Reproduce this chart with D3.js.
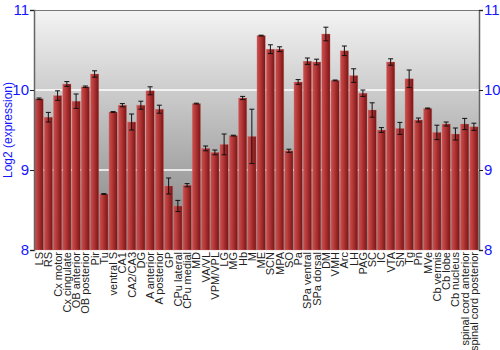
<!DOCTYPE html>
<html>
<head>
<meta charset="utf-8">
<script src="https://cdn.jsdelivr.net/npm/d3@7"></script>
<style>
  body { margin: 0; background: #fff; }
  text { font-family: "Liberation Sans", Arial, sans-serif; }
</style>
</head>
<body>
<div id="chart"></div>
<script>
var regions = ["LS", "RS", "Cx motor", "Cx cingulate", "OB anterior", "OB posterior", "Pir", "Tu",
  "ventral S", "CA1", "CA2/CA3", "DG", "A anterior", "A posterior", "GP", "CPu lateral",
  "CPu medial", "MD", "VA/VL", "VPM/VPL", "LG", "MG", "Hb", "M", "ME", "SCN", "MPA", "SO",
  "Pa", "SPa ventral", "SPa dorsal", "DM", "VMH", "Arc", "LH", "PAG", "SC", "IC", "VTA", "SN",
  "Tg", "Pn", "MVe", "Cb vermis", "Cb lobe", "Cb nucleus", "spinal cord anterior", "spinal cord posterior"];

var expression = [9.89, 9.66, 9.93, 10.075, 9.86, 10.04, 10.20, 8.70,
  9.725, 9.81, 9.60, 9.81, 9.99, 9.76, 8.80, 8.55,
  8.81, 9.83, 9.27, 9.22, 9.32, 9.43, 9.90, 9.42, 10.68, 10.51, 10.51, 9.24,
  10.10, 10.36, 10.35, 10.70, 10.12, 10.49, 10.18, 9.96, 9.75, 9.50, 10.35, 9.52,
  10.14, 9.625, 9.77, 9.47, 9.575, 9.45, 9.575, 9.54];

var stderr = [0.01, 0.06, 0.06, 0.03, 0.09, 0.01, 0.04, 0.005,
  0.005, 0.02, 0.10, 0.05, 0.05, 0.05, 0.10, 0.07,
  0.02, 0.005, 0.03, 0.03, 0.13, 0.005, 0.02, 0.34, 0.005, 0.055, 0.03, 0.02,
  0.03, 0.04, 0.035, 0.085, 0.005, 0.06, 0.085, 0.04, 0.09, 0.03, 0.04, 0.075,
  0.11, 0.025, 0.005, 0.09, 0.025, 0.075, 0.07, 0.045];

var yTicks = [8, 9, 10, 11];

var margin = {top: 10, right: 21, bottom: 100, left: 34},
    width = 500 - margin.left - margin.right,
    height = 350 - margin.top - margin.bottom;

var svg = d3.select("#chart").append("svg")
    .attr("width", 500)
    .attr("height", 350);

var defs = svg.append("defs");
var bg = defs.append("linearGradient").attr("id", "bg")
    .attr("x1", 0).attr("y1", 0).attr("x2", 0).attr("y2", 1);
bg.append("stop").attr("offset", "0%").attr("stop-color", "#f4f4f4");
bg.append("stop").attr("offset", "100%").attr("stop-color", "#7e7e7e");

var barGrad = defs.append("linearGradient").attr("id", "bar")
    .attr("x1", 0).attr("y1", 0).attr("x2", 1).attr("y2", 0);
barGrad.append("stop").attr("offset", "0%").attr("stop-color", "#c85050");
barGrad.append("stop").attr("offset", "35%").attr("stop-color", "#b83a3a");
barGrad.append("stop").attr("offset", "100%").attr("stop-color", "#7a1414");

var g = svg.append("g")
    .attr("transform", "translate(" + margin.left + "," + margin.top + ")");

var x = d3.scaleBand().domain(regions).range([0, width]).paddingInner(0.1).paddingOuter(0.1);
var y = d3.scaleLinear().domain([8, 11]).range([height, 0]);

g.append("rect")
    .attr("width", width)
    .attr("height", height)
    .attr("fill", "url(#bg)");

// grid
g.selectAll(".grid")
    .data([9, 10])
  .enter().append("line")
    .attr("x1", 0).attr("x2", width)
    .attr("y1", function(d) { return y(d); })
    .attr("y2", function(d) { return y(d); })
    .attr("stroke", "#fff")
    .attr("stroke-width", 1.5);

var data = regions.map(function(r, i) { return {name: r, v: expression[i], e: stderr[i]}; });

g.selectAll(".bar")
    .data(data)
  .enter().append("rect")
    .attr("x", function(d) { return x(d.name); })
    .attr("width", x.bandwidth())
    .attr("y", function(d) { return y(d.v); })
    .attr("height", function(d) { return height - y(d.v); })
    .attr("fill", "url(#bar)")
    .attr("stroke", "#d88080")
    .attr("stroke-opacity", 0.5)
    .attr("stroke-width", 0.6);

var err = g.selectAll(".err")
    .data(data)
  .enter().append("g")
    .attr("stroke", "#111")
    .attr("stroke-width", 1);

err.append("line")
    .attr("x1", function(d) { return x(d.name) + x.bandwidth() / 2; })
    .attr("x2", function(d) { return x(d.name) + x.bandwidth() / 2; })
    .attr("y1", function(d) { return y(d.v + d.e); })
    .attr("y2", function(d) { return y(d.v - d.e); });
err.append("line")
    .attr("x1", function(d) { return x(d.name) + x.bandwidth() / 2 - 2.5; })
    .attr("x2", function(d) { return x(d.name) + x.bandwidth() / 2 + 2.5; })
    .attr("y1", function(d) { return y(d.v + d.e); })
    .attr("y2", function(d) { return y(d.v + d.e); });
err.append("line")
    .attr("x1", function(d) { return x(d.name) + x.bandwidth() / 2 - 2.5; })
    .attr("x2", function(d) { return x(d.name) + x.bandwidth() / 2 + 2.5; })
    .attr("y1", function(d) { return y(d.v - d.e); })
    .attr("y2", function(d) { return y(d.v - d.e); });

// frame top line
g.append("line")
    .attr("x1", 0).attr("x2", width)
    .attr("y1", 0.5).attr("y2", 0.5)
    .attr("stroke", "#777");

var yAxisL = g.append("g")
    .call(d3.axisLeft(y).tickValues(yTicks).tickSize(4).tickFormat(d3.format("d")));
var yAxisR = g.append("g")
    .attr("transform", "translate(" + width + ",0)")
    .call(d3.axisRight(y).tickValues(yTicks).tickSize(4).tickFormat(d3.format("d")));

[yAxisL, yAxisR].forEach(function(a) {
  a.select(".domain").attr("stroke", "#666").attr("stroke-width", 1.5);
  a.selectAll(".tick line").attr("stroke", "#222");
  a.selectAll(".tick text")
      .attr("fill", "#1515ff")
      .style("font-family", "'Liberation Sans', Arial, sans-serif")
      .style("font-size", "15px");
});
yAxisL.selectAll(".tick text").attr("x", -5);
yAxisR.selectAll(".tick text").attr("x", 5);

svg.append("text")
    .attr("transform", "translate(12," + (margin.top + height / 2) + ") rotate(-90)")
    .attr("text-anchor", "middle")
    .attr("fill", "#1515ff")
    .style("font-size", "12px")
    .text("Log2 (expression)");

g.selectAll(".xlabel")
    .data(regions)
  .enter().append("text")
    .attr("transform", function(d) {
      return "translate(" + (x(d) + x.bandwidth() / 2 + 4) + "," + (height + 2) + ") rotate(-90)";
    })
    .attr("text-anchor", "end")
    .attr("fill", "#222")
    .style("font-size", "11px")
    .text(function(d) { return d; });
</script>
</body>
</html>
